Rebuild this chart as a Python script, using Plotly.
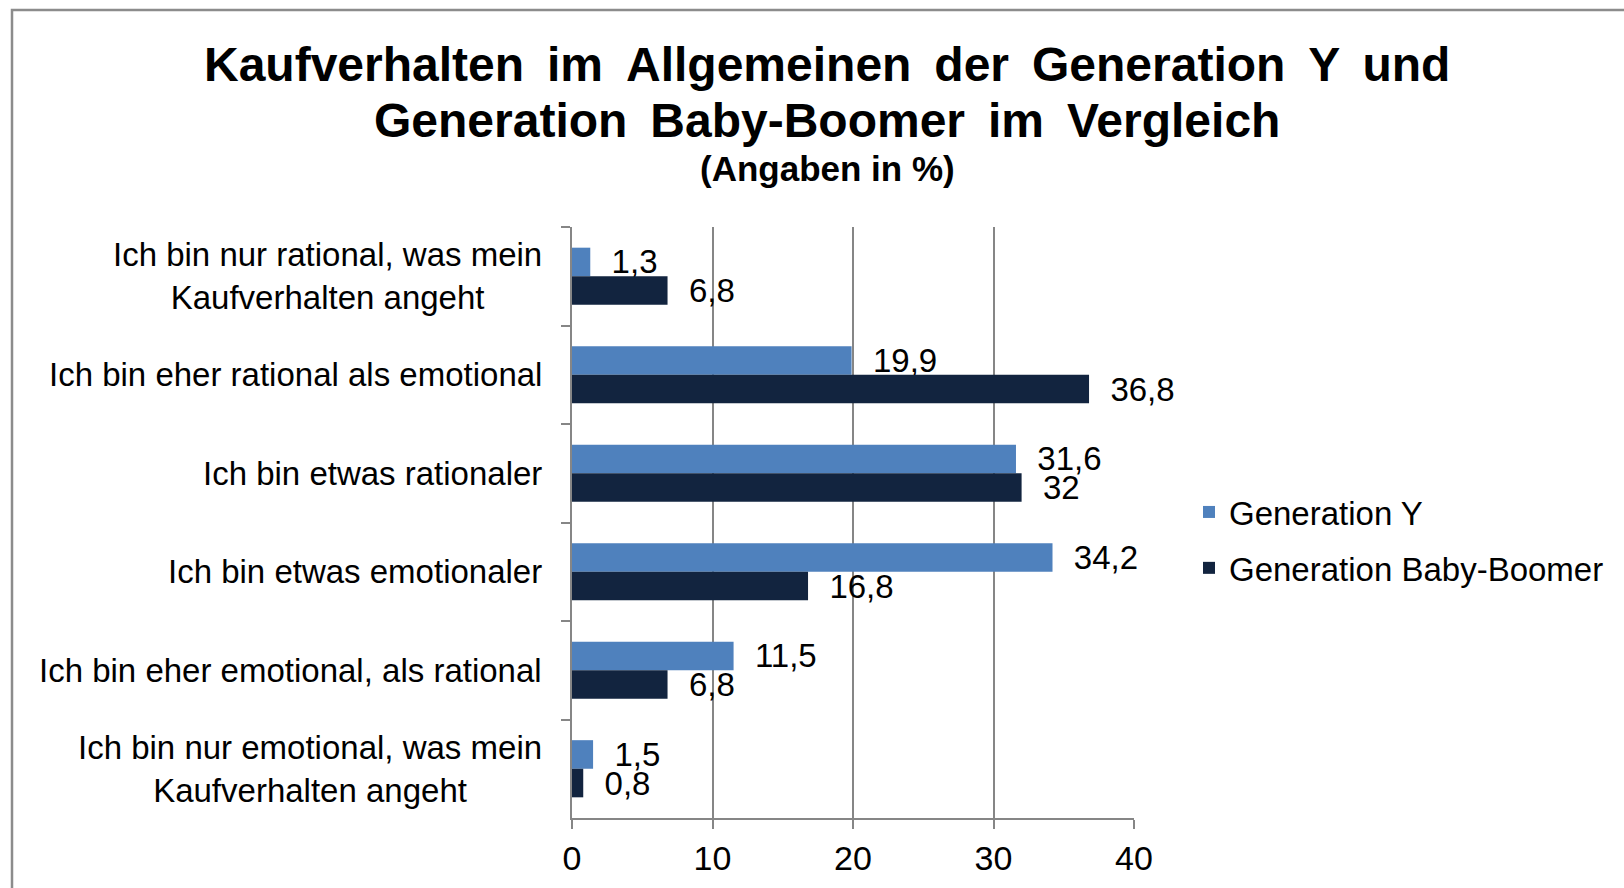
import plotly.graph_objects as go

categories = [
    "Ich bin nur rational, was mein<br>Kaufverhalten angeht",
    "Ich bin eher rational als emotional",
    "Ich bin etwas rationaler",
    "Ich bin etwas emotionaler",
    "Ich bin eher emotional, als rational",
    "Ich bin nur emotional, was mein<br>Kaufverhalten angeht",
]
gen_y = [1.3, 19.9, 31.6, 34.2, 11.5, 1.5]
boomer = [6.8, 36.8, 32, 16.8, 6.8, 0.8]
x_ticks = [0, 10, 20, 30, 40]

FONT = "Liberation Sans, Arial, sans-serif"
W, H = 1624, 888
L, R, T, B = 572, 1134, 227, 818
PW, PH = R - L, B - T


def px(x):
    return (x - L) / PW


def py(y):
    return (B - y) / PH


def fmt(v):
    return "\u00a0\u00a0" + f"{v:g}".replace(".", ",")


fig = go.Figure()
for name, vals, col in [("Generation Y", gen_y, "#4F81BD"),
                        ("Generation Baby-Boomer", boomer, "#12243F")]:
    fig.add_trace(go.Bar(
        y=categories, x=vals, orientation="h", name=name,
        marker=dict(color=col, line=dict(width=0)),
        text=[fmt(v) for v in vals], textposition="outside",
        textfont=dict(family=FONT, size=33, color="#000000"),
        constraintext="none", cliponaxis=False,
        legendgroup=name,
    ))

annotations = []
for c in categories:
    annotations.append(dict(
        x=px(544), xref="paper", y=c, yref="y", xanchor="right", yanchor="middle",
        text=c, align="center", showarrow=False,
        font=dict(family=FONT, size=33, color="#000000"),
    ))

SP = " \u2009"
line1 = SP.join(["Kaufverhalten", "im", "Allgemeinen", "der", "Generation", "Y", "und"])
line2 = SP.join(["Generation", "Baby-Boomer", "im", "Vergleich"])
annotations += [
    dict(x=px(827), y=py(64), xref="paper", yref="paper", xanchor="center", yanchor="middle",
         text="<b>" + line1 + "</b>", showarrow=False,
         font=dict(family=FONT, size=48, color="#000000")),
    dict(x=px(827), y=py(120), xref="paper", yref="paper", xanchor="center", yanchor="middle",
         text="<b>" + line2 + "</b>", showarrow=False,
         font=dict(family=FONT, size=48, color="#000000")),
    dict(x=px(827), y=py(168), xref="paper", yref="paper", xanchor="center", yanchor="middle",
         text="<b>(Angaben in %)</b>", showarrow=False,
         font=dict(family=FONT, size=35, color="#000000")),
]

fig.update_layout(
    width=W, height=H,
    margin=dict(l=L, r=W - R, t=T, b=H - B, pad=0),
    paper_bgcolor="#FFFFFF", plot_bgcolor="#FFFFFF",
    barmode="group", bargap=0.42, bargroupgap=0,
    showlegend=True,
    legend=dict(x=px(1189), y=py(484), xanchor="left", yanchor="top",
                font=dict(family=FONT, size=33, color="#000000"),
                traceorder="grouped", tracegroupgap=10,
                bgcolor="rgba(0,0,0,0)"),
    annotations=annotations,
    shapes=[dict(type="rect", xref="paper", yref="paper",
                 x0=px(12), x1=px(1640), y0=py(10), y1=py(900),
                 line=dict(color="#8C8C8C", width=2.5), fillcolor="rgba(0,0,0,0)", layer="below")],
    font=dict(family=FONT),
)
fig.update_xaxes(
    range=[0, 40], tickvals=x_ticks, ticktext=[str(t) for t in x_ticks],
    showgrid=True, gridcolor="#868686", gridwidth=2,
    showline=True, linecolor="#868686", linewidth=2,
    ticks="outside", ticklen=9, tickcolor="#868686", tickwidth=2,
    tickfont=dict(family=FONT, size=34, color="#000000"),
    zeroline=False, fixedrange=True,
)
fig.update_yaxes(
    type="category", autorange="reversed",
    showticklabels=False, showgrid=False,
    showline=True, linecolor="#868686", linewidth=2,
    ticks="outside", tickson="boundaries", ticklen=9, tickcolor="#868686", tickwidth=2,
    zeroline=False, fixedrange=True,
)

fig.write_html("out.html", config={"displayModeBar": False},
               post_script="document.body.style.margin='0';document.body.style.overflow='hidden';")
